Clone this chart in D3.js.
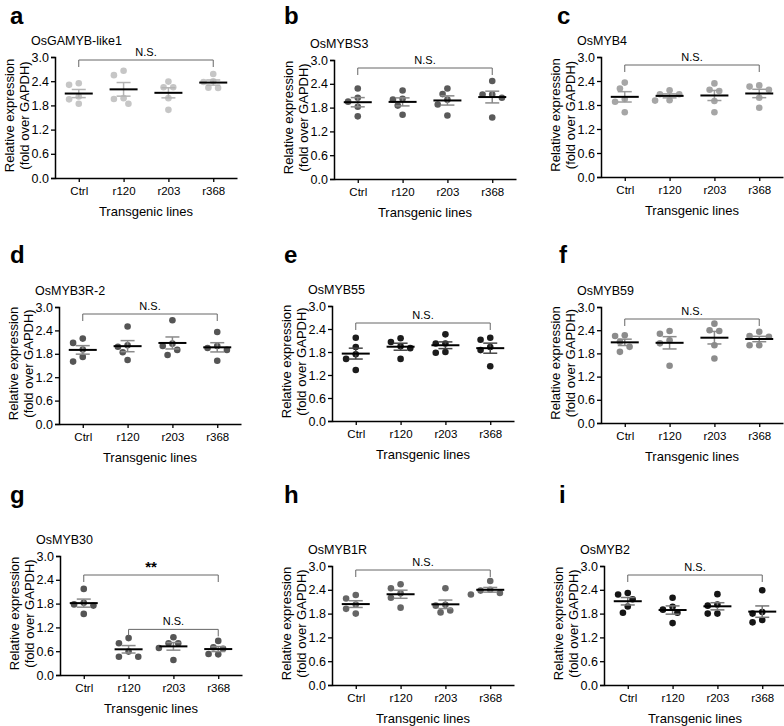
<!DOCTYPE html>
<html><head><meta charset="utf-8">
<script src="https://cdn.jsdelivr.net/npm/d3@7"></script>
<style>
body{margin:0;background:#fff}
text{font-family:"Liberation Sans",Arial,Helvetica,sans-serif}
</style>
</head><body>
<svg id="chart" width="784" height="726"></svg>
<script>
// ---------- data ----------
const categories = ["Ctrl", "r120", "r203", "r368"];
const yTicks = [0, 0.6, 1.2, 1.8, 2.4, 3.0];
const panelLetters = ["a","b","c","d","e","f","g","h","i"];
const geneNames = ["OsGAMYB-like1","OsMYBS3","OsMYB4","OsMYB3R-2","OsMYB55","OsMYB59","OsMYB30","OsMYB1R","OsMYB2"];
const xTitle = "Transgenic lines";
const yTitle1 = "Relative expression";
const yTitle2 = "(fold over GAPDH)";

const dataA = [[2.31,2.35,2.02,1.84,1.95],[2.66,2.55,1.96,1.98,1.84],[2.39,2.25,2.25,1.98,1.69],[2.58,2.38,2.40,2.24,2.23]];
const dataB = [[2.28,2.05,1.95,1.82,1.58],[2.23,2.02,2.00,1.85,1.62],[2.28,2.14,2.00,1.88,1.60],[2.47,2.13,2.13,2.05,1.55]];
const dataC = [[2.36,2.21,1.95,1.88,1.62],[2.17,2.07,2.07,1.92,1.91],[2.34,2.15,2.18,1.90,1.62],[2.29,2.26,2.18,1.98,1.73]];
const dataD = [[2.19,2.08,1.91,1.72,1.60],[2.50,2.02,1.98,1.84,1.64],[2.66,2.06,2.00,1.90,1.77],[2.36,2.00,1.95,1.90,1.62]];
const dataE = [[2.17,1.93,1.74,1.62,1.33],[2.06,2.16,1.95,1.90,1.62],[2.26,2.02,2.02,1.78,1.80],[2.12,2.17,1.93,1.85,1.43]];
const dataF = [[2.25,2.27,2.10,1.97,1.84],[2.31,2.38,2.14,2.06,1.48],[2.57,2.40,2.38,2.01,1.67],[2.25,2.36,2.23,2.01,2.01]];
const dataG = [[2.17,1.82,1.78,1.75,1.54],[0.93,0.80,0.59,0.46,0.46],[0.95,0.80,0.80,0.68,0.38],[0.86,0.70,0.66,0.53,0.52]];
const dataH = [[2.27,2.18,2.03,1.92,1.80],[2.54,2.44,2.31,2.20,1.95],[2.44,2.00,2.02,1.88,1.83],[2.62,2.40,2.38,2.32,2.28]];
const dataI = [[2.28,2.32,2.16,1.98,1.82],[2.20,1.97,1.90,1.82,1.56],[2.29,2.00,2.03,1.80,1.80],[2.39,1.84,1.80,1.64,1.58]];
const panelData = [dataA,dataB,dataC,dataD,dataE,dataF,dataG,dataH,dataI];

// significance brackets: [from category, to category, label]
const sigA = [["Ctrl","r368","N.S."]];
const sigG = [["Ctrl","r368","**"],["r120","r368","N.S."]];
const panelSig = [sigA,sigA,sigA,sigA,sigA,sigA,sigG,sigA,sigA];

// ---------- layout / style ----------
const layout = [
  {ax:55,  yTop:57,  yBot:178, lx:10,  ly:24,  br:3,  dot:"#c6c6c6", sem:"#b4b4b4"},
  {ax:334, yTop:60,  yBot:179, lx:284, ly:24,  br:8,  dot:"#5a5a5a", sem:"#8a8a8a"},
  {ax:601, yTop:57,  yBot:177, lx:557, ly:24,  br:8,  dot:"#a6a6a6", sem:"#9c9c9c"},
  {ax:59,  yTop:307, yBot:424, lx:10,  ly:263, br:7,  dot:"#555555", sem:"#8a8a8a"},
  {ax:332, yTop:306, yBot:421, lx:284, ly:263, br:17, dot:"#1c1c1c", sem:"#444444"},
  {ax:601, yTop:307, yBot:423, lx:559, ly:263, br:12, dot:"#8c8c8c", sem:"#8a8a8a"},
  {ax:60,  yTop:556, yBot:675, lx:10,  ly:503, br:19, dot:"#555555", sem:"#8a8a8a"},
  {ax:332, yTop:566, yBot:685, lx:284, ly:503, br:4,  dot:"#666666", sem:"#8a8a8a"},
  {ax:604, yTop:566, yBot:685, lx:559, ly:503, br:9,  dot:"#151515", sem:"#777777"}
];
const subBracketValue = 1.15; // level of the second bracket in panel g

const svg = d3.select("#chart");
const R = 3.3;

function dodge(vals, y) {
  const order = vals.map((v,i)=>({v,i})).sort((a,b)=>b.v-a.v);
  const placed = [];
  const step = (2*R + 1.2)*0.62;
  order.forEach(p => {
    const py = y(p.v);
    const cands = [0];
    for (let k=1;k<6;k++){ cands.push(-k*step, k*step); }
    let dx = 0;
    for (const c of cands) {
      if (placed.every(q => Math.hypot(q.dx-c, q.py-py) >= 2*R+0.6)) { dx = c; break; }
    }
    placed.push({dx, py, v:p.v});
  });
  return placed;
}

panelData.forEach((data, pi) => {
  const L = layout[pi];
  const g = svg.append("g");
  const y = d3.scaleLinear().domain([0,3]).range([L.yBot, L.yTop]);
  const x = d3.scalePoint().domain(categories).range([L.ax, L.ax+182]).padding(0.53);

  g.append("text").attr("x", L.lx).attr("y", L.ly).attr("font-size", 24).attr("font-weight", "bold").text(panelLetters[pi]);
  g.append("text").attr("x", L.ax-24).attr("y", L.yTop-12).attr("font-size", 12.5).text(geneNames[pi]);

  const ya = g.append("g").attr("transform", `translate(${L.ax},0)`)
    .call(d3.axisLeft(y).tickValues(yTicks).tickFormat(d3.format(".1f")).tickSize(4).tickPadding(2));
  ya.select(".domain").attr("stroke","#000").attr("stroke-width",1.5);
  ya.selectAll(".tick line").attr("stroke","#000").attr("stroke-width",1.3);
  ya.selectAll(".tick text").attr("font-size",12.5).attr("fill","#000").attr("font-family","Liberation Sans, Arial, sans-serif");

  const xa = g.append("g").attr("transform", `translate(0,${L.yBot})`)
    .call(d3.axisBottom(x).tickSize(4).tickPadding(5).tickSizeOuter(0));
  xa.select(".domain").attr("stroke","#000").attr("stroke-width",1.5);
  xa.selectAll(".tick line").attr("stroke","#000").attr("stroke-width",1.3);
  xa.selectAll(".tick text").attr("font-size",11.5).attr("fill","#000").attr("font-family","Liberation Sans, Arial, sans-serif");

  g.append("text").attr("x", (x("Ctrl")+x("r368"))/2).attr("y", L.yBot+38)
    .attr("text-anchor","middle").attr("font-size",13).text(xTitle);
  const cy = (L.yTop+L.yBot)/2 - 2;
  g.append("text").attr("transform", `translate(${L.ax-41},${cy}) rotate(-90)`)
    .attr("text-anchor","middle").attr("font-size",13).text(yTitle1);
  g.append("text").attr("transform", `translate(${L.ax-26},${cy}) rotate(-90)`)
    .attr("text-anchor","middle").attr("font-size",13).text(yTitle2);

  categories.forEach((cat, ci) => {
    const vals = data[ci];
    const cx = x(cat);
    const m = d3.mean(vals);
    const sem = d3.deviation(vals) / Math.sqrt(vals.length);
    const pts = dodge(vals, y);
    g.append("g").selectAll("circle").data(pts).join("circle")
      .attr("cx", d => cx + d.dx).attr("cy", d => y(d.v)).attr("r", R).attr("fill", L.dot);
    const sg = g.append("g").attr("stroke", L.sem).attr("stroke-width", 1.5);
    sg.append("line").attr("x1",cx).attr("x2",cx).attr("y1",y(m-sem)).attr("y2",y(m+sem));
    [m-sem, m+sem].forEach(v => sg.append("line").attr("x1",cx-7).attr("x2",cx+7).attr("y1",y(v)).attr("y2",y(v)));
    g.append("line").attr("x1",cx-14).attr("x2",cx+14).attr("y1",y(m)).attr("y2",y(m))
      .attr("stroke","#000").attr("stroke-width",2);
  });

  panelSig[pi].forEach((s, si) => {
    const by = si === 0 ? L.yTop + L.br : y(subBracketValue);
    const x1 = x(s[0]), x2 = x(s[1]);
    g.append("path").attr("d", `M${x1},${by+7}V${by}H${x2}V${by+7}`)
      .attr("fill","none").attr("stroke","#666").attr("stroke-width",1);
    const star = s[2] === "**";
    g.append("text").attr("x",(x1+x2)/2).attr("y", by-(star?3:4))
      .attr("text-anchor","middle").attr("font-size", star?15:11).attr("font-weight", star?"bold":"normal")
      .text(s[2]);
  });
});
</script>
</body></html>
